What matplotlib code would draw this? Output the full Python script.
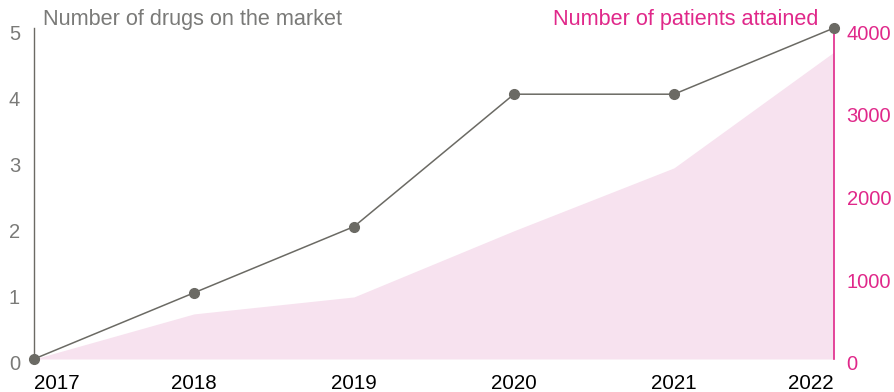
import matplotlib
matplotlib.use('Agg')
import matplotlib.pyplot as plt
from matplotlib.transforms import ScaledTranslation

plt.rcParams['font.family'] = ['Liberation Sans', 'DejaVu Sans']

# yearly figures
years = [2017, 2018, 2019, 2020, 2021, 2022]
drugs_on_market = [0, 1, 2, 4, 4, 5]
patients_attained = [0, 545, 750, 1550, 2310, 3710]
drug_ticks = [0, 1, 2, 3, 4, 5]
patient_ticks = [0, 1000, 2000, 3000, 4000]

GREY = '#6b6a64'
LABEL_GREY = '#7a7a78'
PINK = '#e0288a'
FILL = '#f7e2ef'

fig = plt.figure(figsize=(8.94, 3.92), dpi=100)
ax = fig.add_axes([34 / 894, 33 / 392, 800 / 894, 331 / 392])
ax2 = ax.twinx()

# patients as a shaded area on the right scale
ax2.fill_between(years, patients_attained, 0, color=FILL, lw=0, zorder=1)
ax2.set_ylim(0, 4000)
ax2.set_yticks(patient_ticks)
ax2.tick_params(axis='y', length=0, pad=9, labelsize=14.5, labelcolor=PINK)

# drugs as a line with dots on the left scale, drawn above the area
ax.set_zorder(ax2.get_zorder() + 1)
ax.patch.set_visible(False)
ax.plot(years, drugs_on_market, color=GREY, lw=1.1, marker='o', ms=7,
        clip_on=False, zorder=3)
ax.set_xlim(2017, 2022)
ax.set_ylim(0, 5)
ax.set_yticks(drug_ticks)
ax.tick_params(axis='y', length=0, pad=10, labelsize=14.5, labelcolor=LABEL_GREY)
ax.set_xticks(years)
ax.tick_params(axis='x', length=0, pad=10.5, labelsize=14.8, labelcolor='black')
xlabels = ax.get_xticklabels()
xlabels[0].set_horizontalalignment('left')
xlabels[-1].set_horizontalalignment('right')

# y labels sit a little below their gridline value
shift = ScaledTranslation(0, -4 / 100, fig.dpi_scale_trans)
for lab in ax.get_yticklabels() + ax2.get_yticklabels():
    lab.set_transform(lab.get_transform() + shift)

for a in (ax, ax2):
    for side in ('top', 'bottom', 'right', 'left'):
        a.spines[side].set_visible(False)
ax.spines['left'].set_visible(True)
ax.spines['left'].set_color(GREY)
ax.spines['left'].set_linewidth(1.0)
ax2.spines['right'].set_visible(True)
ax2.spines['right'].set_color(PINK)
ax2.spines['right'].set_linewidth(1.2)

fig.text(43 / 894, 1 - 19 / 392, 'Number of drugs on the market', color=LABEL_GREY,
         fontsize=15.6, ha='left', va='center')
fig.text(818 / 894, 1 - 20 / 392, 'Number of patients attained', color=PINK,
         fontsize=15.6, ha='right', va='center')

fig.savefig('out.png', dpi=100)
